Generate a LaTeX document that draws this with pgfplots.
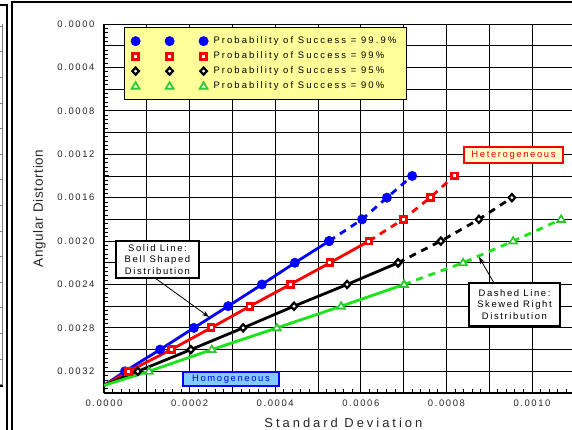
\documentclass[border=0pt]{standalone}
\usepackage{fontspec}
\setmainfont{Liberation Sans}
\newfontfamily\spc[LetterSpace=17]{Liberation Sans}
\newfontfamily\spcl[LetterSpace=22]{Liberation Sans}
\newfontfamily\spcw[LetterSpace=23]{Liberation Sans}
\newfontfamily\spcn[LetterSpace=5]{Liberation Sans}
\usepackage{pgfplots}
\usepackage{pgfplotstable}
\pgfplotsset{compat=1.18}
\usetikzlibrary{arrows.meta}

\definecolor{lgreen}{RGB}{25,230,25}
\definecolor{mgreen}{RGB}{45,200,45}
\definecolor{legyellow}{RGB}{255,255,153}
\definecolor{hetfill}{RGB}{255,255,204}
\definecolor{homfill}{RGB}{130,205,255}

% marker shapes: solid outline with a small white centre
\pgfdeclareplotmark{hollowsquare}{%
  \pgfpathrectangle{\pgfqpoint{-4.4bp}{-4.4bp}}{\pgfqpoint{8.8bp}{8.8bp}}%
  \pgfusepathqfill
  \begin{pgfscope}
    \pgfsetfillcolor{white}%
    \pgfpathrectangle{\pgfqpoint{-1.5bp}{-1.5bp}}{\pgfqpoint{3bp}{3bp}}%
    \pgfusepathqfill
  \end{pgfscope}}
\pgfdeclareplotmark{hollowdiamond}{%
  \pgfpathmoveto{\pgfqpoint{0bp}{5.2bp}}%
  \pgfpathlineto{\pgfqpoint{4.8bp}{0bp}}%
  \pgfpathlineto{\pgfqpoint{0bp}{-5.2bp}}%
  \pgfpathlineto{\pgfqpoint{-4.8bp}{0bp}}%
  \pgfpathclose
  \pgfusepathqfill
  \begin{pgfscope}
    \pgfsetfillcolor{white}%
    \pgfpathmoveto{\pgfqpoint{0bp}{1.7bp}}%
    \pgfpathlineto{\pgfqpoint{1.6bp}{0bp}}%
    \pgfpathlineto{\pgfqpoint{0bp}{-1.7bp}}%
    \pgfpathlineto{\pgfqpoint{-1.6bp}{0bp}}%
    \pgfpathclose
    \pgfusepathqfill
  \end{pgfscope}}
\pgfdeclareplotmark{hollowtriangle}{%
  \pgfpathmoveto{\pgfqpoint{0bp}{5.6bp}}%
  \pgfpathlineto{\pgfqpoint{5.4bp}{-3.4bp}}%
  \pgfpathlineto{\pgfqpoint{-5.4bp}{-3.4bp}}%
  \pgfpathclose
  \pgfusepathqfill
  \begin{pgfscope}
    \pgfsetfillcolor{white}%
    \pgfpathmoveto{\pgfqpoint{0bp}{1.9bp}}%
    \pgfpathlineto{\pgfqpoint{2.2bp}{-1.5bp}}%
    \pgfpathlineto{\pgfqpoint{-2.2bp}{-1.5bp}}%
    \pgfpathclose
    \pgfusepathqfill
  \end{pgfscope}}

% Probability of success 99.9%
\pgfplotstableread{
x y
0        0.00333
0.000049 0.0032
0.000131 0.0030
0.000210 0.0028
0.000290 0.0026
0.000369 0.0024
0.000446 0.0022
0.000526 0.0020
}\blueSolid
\pgfplotstableread{
x y
0.000526 0.0020
0.000603 0.0018
0.000661 0.0016
0.000720 0.0014
}\blueDashed
% Probability of success 99%
\pgfplotstableread{
x y
0        0.00333
0.000058 0.0032
0.000157 0.0030
0.000250 0.0028
0.000341 0.0026
0.000435 0.0024
0.000528 0.0022
0.000619 0.0020
}\redSolid
\pgfplotstableread{
x y
0.000619 0.0020
0.000699 0.0018
0.000762 0.0016
0.000818 0.0014
}\redDashed
% Probability of success 95%
\pgfplotstableread{
x y
0        0.00333
0.000079 0.0032
0.000203 0.0030
0.000325 0.0028
0.000444 0.0026
0.000568 0.0024
0.000687 0.0022
}\blackSolid
\pgfplotstableread{
x y
0.000687 0.0022
0.000787 0.0020
0.000876 0.0018
0.000953 0.0016
}\blackDashed
% Probability of success 90%
\pgfplotstableread{
x y
0        0.00333
0.000105 0.0032
0.000252 0.0030
0.000404 0.0028
0.000554 0.0026
0.000701 0.0024
}\greenSolid
\pgfplotstableread{
x y
0.000701 0.0024
0.000839 0.0022
0.000956 0.0020
0.001068 0.0018
}\greenDashed

\pgfplotsset{
  bluemark/.style={mark=*, mark size=4.7bp, mark options={solid, draw=blue, fill=blue, line width=0.5bp}},
  redmark/.style={mark=hollowsquare, mark options={solid, fill=red}},
  blackmark/.style={mark=hollowdiamond, mark options={solid, fill=black}},
  greenmark/.style={mark=hollowtriangle, mark options={solid, fill=mgreen}},
  dashedline/.style={line width=2.8bp, dash pattern=on 7bp off 6bp},
}

\begin{document}
\begin{tikzpicture}
\useasboundingbox (0,0) rectangle (572bp,-430bp);
\clip (0,0) rectangle (572bp,-430bp);

% page frames
\draw[line width=1.8bp] (11bp,-1.8bp) -- (572bp,-1.8bp);
\draw[line width=1.6bp] (11.7bp,-1.8bp) -- (11.7bp,-430bp);
\draw[line width=1.6bp] (0bp,-5bp) -- (7.2bp,-5bp) -- (7.2bp,-430bp);
\draw[gray, line width=0.6bp] (2.4bp,-24bp) -- (2.4bp,-386bp);
\foreach \k in {0,...,14} {
  \draw[gray, line width=0.6bp] (0bp,{-26bp-\k*25.6bp}) -- (2.4bp,{-26bp-\k*25.6bp});
}
\draw[line width=1.6bp] (0bp,-386bp) -- (3bp,-386bp);

\begin{axis}[
  at={(104bp,-393bp)}, anchor=south west,
  scale only axis, width=470.8bp, height=369bp,
  xmin=0, xmax=0.0011, ymin=0, ymax=0.0034,
  y dir=reverse,
  scaled x ticks=false, scaled y ticks=false,
  axis x line*=bottom, axis y line*=left,
  axis line style={-, line width=2.6bp},
  xtick={0,0.0001,0.0002,0.0003,0.0004,0.0005,0.0006,0.0007,0.0008,0.0009,0.0010,0.0011},
  xticklabels={0.0000,,0.0002,,0.0004,,0.0006,,0.0008,,0.0010,},
  ytick={0,0.0002,0.0004,0.0006,0.0008,0.0010,0.0012,0.0014,0.0016,0.0018,0.0020,0.0022,0.0024,0.0026,0.0028,0.0030,0.0032,0.0034},
  yticklabels={0.0000,,0.0004,,0.0008,,0.0012,,0.0016,,0.0020,,0.0024,,0.0028,,0.0032,},
  minor x tick num=4, minor y tick num=4,
  tick align=inside,
  major tick length=5bp, minor tick length=4bp,
  tick style={black, line width=0.9bp},
  grid=major,
  grid style={black, line width=0.8bp},
  tick label style={font=\spc\fontsize{9.5}{11}\selectfont, text=black!85},
  yticklabel style={xshift=-6bp},
  xticklabel style={yshift=-3bp},
  xlabel={Standard Deviation},
  ylabel={Angular Distortion},
  xlabel style={font=\spcw\fontsize{13}{15}\selectfont, text=black!85, yshift=-5bp, xshift=4bp},
  ylabel style={font=\spcn\fontsize{13.5}{15}\selectfont, text=black!85, yshift=5bp},
  legend style={
    at={(0.0425,0.992)}, anchor=north west,
    fill=legyellow, draw=black, line width=1.4bp,
    font=\spcl\fontsize{9.5}{11}\selectfont,
    inner xsep=5.5bp, inner ysep=6bp,
    nodes={inner xsep=4.5bp, inner ysep=2.5bp, text height=7.5bp, text depth=2.5bp},
    row sep=0bp,
    legend cell align=left,
  },
  legend image code/.code={
    \draw[only marks, mark indices={1,2,3}] plot coordinates {(0bp,0bp) (34bp,0bp) (68bp,0bp)};
  },
]

% bell-shaped distribution (solid)
\addplot[blue, line width=2.8bp, bluemark, mark indices={2,3,4,5,6,7,8}]
  table {\blueSolid};
\addlegendentry{Probability of Success = 99.9\%}
\addplot[red, line width=2.8bp, redmark, mark indices={2,3,4,5,6,7,8}]
  table {\redSolid};
\addlegendentry{Probability of Success = 99\%}
\addplot[black, line width=2.8bp, blackmark, mark indices={2,3,4,5,6,7}]
  table {\blackSolid};
\addlegendentry{Probability of Success = 95\%}
\addplot[lgreen, line width=2.8bp, greenmark, mark indices={2,3,4,5,6}]
  table {\greenSolid};
\addlegendentry{Probability of Success = 90\%}

% skewed-right distribution (dashed)
\addplot[forget plot, blue, dashedline, bluemark] table {\blueDashed};
\addplot[forget plot, red, dashedline, redmark] table {\redDashed};
\addplot[forget plot, black, dashedline, blackmark] table {\blackDashed};
\addplot[forget plot, lgreen, dashedline, greenmark] table {\greenDashed};
\end{axis}

% annotations
\node[draw=black, line width=1.5bp, fill=white, align=center,
  minimum width=83bp, minimum height=37bp, inner sep=1bp,
  font=\spc\fontsize{9.5}{11.5}\selectfont]
  (solid) at (157.5bp,-259.5bp) {Solid Line:\\Bell Shaped\\Distribution};
\draw[line width=0.8bp, -{Stealth[length=7bp,width=5bp]}] (155bp,-278bp) -- (209bp,-317bp);

\node[draw=black, line width=1.5bp, fill=white, align=center,
  minimum width=91bp, minimum height=43bp, inner sep=1bp,
  font=\spc\fontsize{9.5}{11.5}\selectfont]
  (dashed) at (514.5bp,-304.5bp) {Dashed Line:\\Skewed Right\\Distribution};
\draw[line width=0.8bp, -{Stealth[length=7bp,width=5bp]}] (494bp,-283bp) -- (479bp,-257bp);

\node[draw=red, line width=2bp, fill=hetfill, text=red,
  minimum width=99bp, minimum height=16bp, inner sep=1bp,
  font=\spc\fontsize{9.5}{11}\selectfont]
  at (513.5bp,-155bp) {Heterogeneous};
\node[draw=blue, line width=2bp, fill=homfill, text=blue,
  minimum width=96bp, minimum height=14bp, inner sep=1bp,
  font=\spc\fontsize{9.5}{11}\selectfont]
  at (231bp,-379bp) {Homogeneous};
\end{tikzpicture}
\end{document}
